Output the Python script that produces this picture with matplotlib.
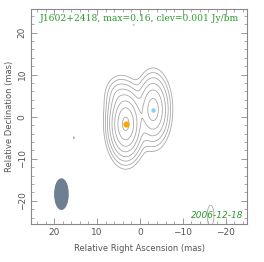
import numpy as np
import matplotlib
matplotlib.use('Agg')
import matplotlib.pyplot as plt
from matplotlib.patches import Ellipse
from matplotlib.ticker import MultipleLocator

# source components: RA offset, Dec offset (mas), peak (Jy/bm), width_x, width_y (mas)
comp_ra = [3.3, -3.1, 5.2, 15.4, -16.5, 1.4]
comp_dec = [-1.7, 1.7, 5.0, -5.0, -23.5, 21.8]
comp_peak = [0.16, 0.05, 0.005, 0.0011, 0.0015, 0.00105]
comp_sx = [1.25, 1.3, 1.3, 0.3, 0.9, 0.5]
comp_sy = [2.6, 2.8, 2.0, 0.7, 2.8, 0.4]
profile_exp = 1.63  # radial profile shape, exp(-0.5 * r**p)

core_pos = (3.3, -1.7)
jet_pos = (-3.1, 1.7)

clev = 0.001
levels = [clev * 2 ** k for k in range(8)]

beam_ra, beam_dec = 18.3, -18.4
beam_w, beam_h = 3.1, 7.2

title = "J1602+2418, max=0.16, clev=0.001 Jy/bm"
epoch = "2006-12-18"

ra = np.linspace(26, -26, 500)
dec = np.linspace(-27, 27, 500)
X, Y = np.meshgrid(ra, dec)
Z = np.zeros_like(X)
for x0, y0, a, sx, sy in zip(comp_ra, comp_dec, comp_peak, comp_sx, comp_sy):
    rho = np.sqrt(((X - x0) / sx) ** 2 + ((Y - y0) / sy) ** 2)
    Z += a * np.exp(-0.5 * rho ** profile_exp)

fig = plt.figure(figsize=(2.64, 2.62), dpi=100)
ax = fig.add_axes([31 / 264, 1 - 224 / 262, 216 / 264, 215 / 262])

ax.contour(X, Y, Z, levels=levels, colors='#a8a8a8', linewidths=0.6)
ax.plot(*core_pos, 'o', color='#ffa500', ms=4.5, mec='none')
ax.plot(*jet_pos, 'o', color='#87cefa', ms=3.2, mec='none')
ax.add_patch(Ellipse((beam_ra, beam_dec), beam_w, beam_h, color='#6d7f91'))

ax.set_xlim(25.4, -25.0)
ax.set_ylim(-25.5, 25.6)
ax.xaxis.set_major_locator(MultipleLocator(10))
ax.yaxis.set_major_locator(MultipleLocator(10))
ax.xaxis.set_minor_locator(MultipleLocator(2))
ax.yaxis.set_minor_locator(MultipleLocator(2))
ax.tick_params(which='both', direction='in', top=True, right=True,
               color='#888888', labelsize=6.5, labelcolor='#555555', pad=3)
ax.tick_params(which='major', length=4, width=0.6)
ax.tick_params(which='minor', length=2, width=0.5)
for lab in ax.get_yticklabels():
    lab.set_rotation(90)
    lab.set_va('center')
for s in ax.spines.values():
    s.set_color('#888888')
    s.set_linewidth(0.8)

ax.set_xlabel('Relative Right Ascension (mas)', fontsize=6, color='#555555', labelpad=5)
ax.set_ylabel('Relative Declination (mas)', fontsize=6, color='#555555', labelpad=3)

ax.text(0.5, 0.955, title, transform=ax.transAxes, ha='center', va='center',
        family='DejaVu Serif', fontsize=6.6, color='#2e9a2e')
ax.text(0.985, 0.04, epoch, transform=ax.transAxes, ha='right', va='center',
        fontsize=6.5, style='italic', color='#2e9a2e')

fig.savefig('out.png', dpi=100)
